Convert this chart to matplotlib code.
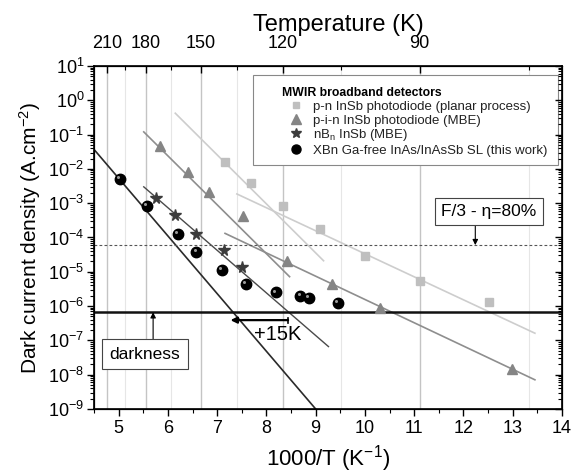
import matplotlib
matplotlib.use("Agg")
import matplotlib.pyplot as plt
from matplotlib.lines import Line2D
from matplotlib.patches import Rectangle
from matplotlib.ticker import LogLocator, NullFormatter, FixedLocator, MultipleLocator
import matplotlib.transforms as mtransforms

plt.rcParams['font.family'] = ['Liberation Sans', 'DejaVu Sans']
plt.rcParams['mathtext.fontset'] = 'custom'
plt.rcParams['mathtext.rm'] = 'Liberation Sans'
plt.rcParams['mathtext.it'] = 'Liberation Sans:italic'
plt.rcParams['mathtext.bf'] = 'Liberation Sans:bold'

# ---------------- data ----------------
# p-n InSb photodiode (planar process)
pn_x = [7.15, 7.68, 8.34, 9.09, 10.0, 11.11, 12.51]
pn_j = [1.56e-2, 4.0e-3, 8.3e-4, 1.8e-4, 2.9e-5, 5.5e-6, 1.3e-6]
pn_fit1_x = [6.15, 9.16]
pn_fit1_j = [4.2e-1, 2.1e-5]
pn_fit2_x = [7.40, 13.45]
pn_fit2_j = [1.86e-3, 1.62e-7]

# p-i-n InSb photodiode (MBE)
pin_x = [5.84, 6.40, 6.84, 7.52, 8.42, 9.34, 10.31, 12.99]
pin_j = [4.7e-2, 8.1e-3, 2.1e-3, 4.3e-4, 2.0e-5, 4.4e-6, 8.7e-7, 1.45e-8]
pin_fit1_x = [5.51, 8.47]
pin_fit1_j = [1.2e-1, 7.2e-6]
pin_fit2_x = [7.16, 13.45]
pin_fit2_j = [1.32e-4, 7.1e-9]

# nBn InSb (MBE)
nbn_x = [5.76, 6.14, 6.58, 7.13, 7.51]
nbn_j = [1.45e-3, 4.6e-4, 1.3e-4, 4.2e-5, 1.4e-5]
nbn_fit_x = [5.51, 9.26]
nbn_fit_j = [3.0e-3, 6.6e-8]

# XBn Ga-free InAs/InAsSb SL (this work)
xbn_x = [5.03, 5.57, 6.21, 6.58, 7.10, 7.59, 8.20, 8.69, 8.86, 9.45]
xbn_j = [5.0e-3, 8.5e-4, 1.26e-4, 3.8e-5, 1.12e-5, 4.5e-6, 2.5e-6, 2.0e-6, 1.7e-6, 1.26e-6]
xbn_fit_x = [4.5, 9.0]
xbn_fit_j = [3.7e-2, 1.0e-9]

# reference levels
darkness_level = 6.6e-7
f3_level = 6.0e-5

# top axis temperatures
temp_major = [210, 180, 150, 120, 90]
temp_minor = [195, 165, 135, 105, 75]

labels = ["p-n InSb photodiode (planar process)",
          "p-i-n InSb photodiode (MBE)",
          r"nB$_\mathrm{n}$ InSb (MBE)",
          "XBn Ga-free InAs/InAsSb SL (this work)"]

# ---------------- figure ----------------
W, H = 572, 473
fig = plt.figure(figsize=(W / 100, H / 100), dpi=100)
ax = fig.add_axes([94 / W, 1 - 409 / H, 468 / W, 343 / H])
ax.set_yscale('log')
ax.set_xlim(4.5, 14)
ax.set_ylim(1e-9, 10)

# vertical grid lines at temperature ticks
for T in temp_major:
    ax.axvline(1000 / T, color='#c4c4c4', lw=1.0, zorder=0)
for T in temp_minor:
    ax.axvline(1000 / T, color='#e6e6e6', lw=0.8, zorder=0)

# fits
c_pn, c_pin, c_nbn, c_xbn = '#bfbfbf', '#858585', '#3c3c3c', '#2a2a2a'
ax.plot(pn_fit1_x, pn_fit1_j, color='#cdcdcd', lw=1.2, zorder=1)
ax.plot(pn_fit2_x, pn_fit2_j, color='#cdcdcd', lw=1.2, zorder=1)
ax.plot(pin_fit1_x, pin_fit1_j, color='#8e8e8e', lw=1.2, zorder=1)
ax.plot(pin_fit2_x, pin_fit2_j, color='#8e8e8e', lw=1.2, zorder=1)
ax.plot(nbn_fit_x, nbn_fit_j, color='#4a4a4a', lw=1.0, zorder=1)
ax.plot(xbn_fit_x, xbn_fit_j, color=c_xbn, lw=1.2, zorder=1)

# reference lines
ax.axhline(darkness_level, color='#111111', lw=1.8, zorder=2)
ax.axhline(f3_level, color='#555555', lw=0.8, ls=(0, (2.5, 2)), zorder=2)

# markers
ax.plot(pn_x, pn_j, ls='none', marker='s', ms=6, color=c_pn, mec=c_pn, zorder=3)
ax.plot(pin_x, pin_j, ls='none', marker='^', ms=7.5, color=c_pin, mec=c_pin, zorder=3)
ax.plot(nbn_x, nbn_j, ls='none', marker='*', ms=8.5, color=c_nbn, mec=c_nbn, zorder=3)
ax.plot(xbn_x, xbn_j, ls='none', marker='o', ms=7.5, color='#000000', mec='#000000', zorder=3)
hl = mtransforms.offset_copy(ax.transData, fig=fig, x=-1.3, y=1.3, units='points')
ax.plot(xbn_x, xbn_j, ls='none', marker='o', ms=2.2, color='#9a9a9a', mec='none',
        transform=hl, zorder=3.5)

# annotations
ax.annotate('', xy=(5.70, darkness_level), xytext=(5.70, 1.0e-7),
            arrowprops=dict(arrowstyle='-|>', color='black', lw=0.8,
                            mutation_scale=8, shrinkA=0, shrinkB=0), zorder=4)
ax.text(5.53, 4.0e-8, 'darkness', fontsize=12.5, ha='center', va='center',
        bbox=dict(boxstyle='square,pad=0.45', fc='white', ec='#444444', lw=0.8), zorder=4)

ax.annotate('', xy=(12.24, f3_level), xytext=(12.24, 2.7e-4),
            arrowprops=dict(arrowstyle='-|>', color='black', lw=0.8,
                            mutation_scale=8, shrinkA=0, shrinkB=0), zorder=4)
ax.text(12.52, 5.6e-4, 'F/3 - η=80%', fontsize=12.5, ha='center', va='center',
        bbox=dict(boxstyle='square,pad=0.35', fc='white', ec='#444444', lw=0.8), zorder=4)

y15 = 3.9e-7
ax.annotate('', xy=(7.27, y15), xytext=(8.44, y15),
            arrowprops=dict(arrowstyle='-|>', color='black', lw=1.6,
                            mutation_scale=9, shrinkA=0, shrinkB=0), zorder=4)
ax.plot([8.44, 8.44], [y15 * 0.85, y15 * 1.18], color='black', lw=1.2, zorder=4)
ax.text(8.22, 1.45e-7, '+15K', fontsize=14.5, ha='center', va='center', zorder=4)

# legend with custom frame
frame = Rectangle((0.340, 0.711), 0.652, 0.263, transform=ax.transAxes,
                  fc='white', ec='#888888', lw=0.8, zorder=5)
ax.add_patch(frame)
handles = [Line2D([], [], ls='none', marker='s', ms=5, color=c_pn, mec=c_pn),
           Line2D([], [], ls='none', marker='^', ms=6.5, color=c_pin, mec=c_pin),
           Line2D([], [], ls='none', marker='*', ms=7.5, color=c_nbn, mec=c_nbn),
           Line2D([], [], ls='none', marker='o', ms=6.5, color='black', mec='black')]
leg = ax.legend(handles, labels, loc='upper left', bbox_to_anchor=(0.401, 0.938),
                borderaxespad=0, borderpad=0, frameon=False, fontsize=9.5,
                title='MWIR broadband detectors', alignment='left',
                title_fontproperties={'weight': 'bold', 'size': 8.8},
                handlelength=2.1, handletextpad=0.3, labelspacing=0.05,
                handleheight=0.9)
leg.set_zorder(6)
for t in leg.get_texts():
    t.set_color('#222222')

# axes styling
ax.yaxis.set_major_locator(LogLocator(base=10, numticks=20))
ax.yaxis.set_minor_locator(LogLocator(base=10, subs=range(2, 10), numticks=20))
ax.yaxis.set_minor_formatter(NullFormatter())
ax.xaxis.set_major_locator(MultipleLocator(1))
ax.xaxis.set_minor_locator(MultipleLocator(0.5))
ax.tick_params(axis='both', which='major', labelsize=13, direction='out', length=5, width=1)
ax.tick_params(axis='both', which='minor', direction='out', length=3, width=0.8)
ax.tick_params(axis='x', top=False, pad=3)
ax.tick_params(axis='y', right=False, pad=2)
for s in ax.spines.values():
    s.set_linewidth(1.2)

ax.set_xlabel('1000/T (K$^{-1}$)', fontsize=16, labelpad=4)
ax.set_ylabel('Dark current density (A.cm$^{-2}$)', fontsize=15, labelpad=4)

# right mirrored ticks
axr = ax.twinx()
axr.set_yscale('log')
axr.set_ylim(ax.get_ylim())
axr.yaxis.set_major_locator(LogLocator(base=10, numticks=20))
axr.yaxis.set_minor_locator(LogLocator(base=10, subs=range(2, 10), numticks=20))
axr.tick_params(axis='y', which='major', direction='in', length=5, width=1, labelright=False)
axr.tick_params(axis='y', which='minor', direction='in', length=3, width=0.8)
axr.yaxis.set_minor_formatter(NullFormatter())

# top temperature axis
axt = ax.twiny()
axt.set_xlim(ax.get_xlim())
axt.xaxis.set_major_locator(FixedLocator([1000 / T for T in temp_major]))
axt.set_xticklabels([str(T) for T in temp_major])
axt.xaxis.set_minor_locator(FixedLocator([1000 / T for T in temp_minor]))
axt.tick_params(axis='x', which='major', direction='in', length=5, width=1, labelsize=13, pad=10)
axt.tick_params(axis='x', which='minor', direction='in', length=3, width=0.8)
axt.set_xlabel('Temperature (K)', fontsize=17, labelpad=3)
axt.xaxis.label.set_x(0.523)

fig.savefig('out.png', dpi=100)
